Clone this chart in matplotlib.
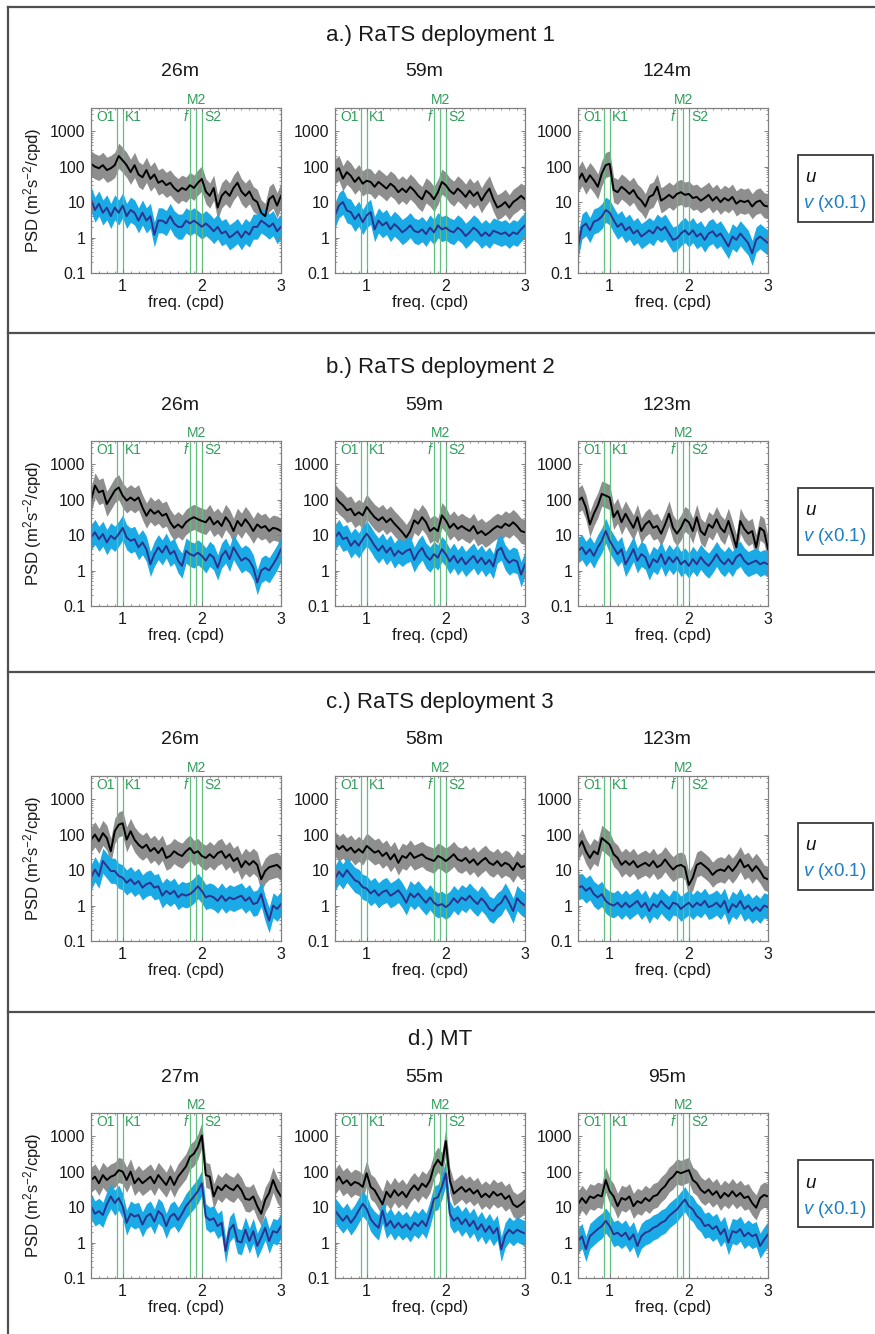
import numpy as np
import matplotlib
matplotlib.use("Agg")
import matplotlib.pyplot as plt
from matplotlib.patches import Rectangle
from matplotlib.lines import Line2D
from matplotlib.ticker import MultipleLocator, LogLocator, NullFormatter
import matplotlib.transforms as mtransforms

plt.rcParams['font.family'] = ['Liberation Sans', 'DejaVu Sans']
plt.rcParams['mathtext.fontset'] = 'custom'
plt.rcParams['mathtext.rm'] = 'Liberation Sans'
plt.rcParams['mathtext.it'] = 'Liberation Sans:italic'

# ---------------- data ----------------
FREQ = np.linspace(0.6, 3.0, 49)  # cpd

# a.) RaTS deployment 1
a1_u = [120,100,90,110,80,90,110,200,150,110,70,110,60,50,80,45,60,35,40,30,35,25,20,25,22,30,25,35,45,20,15,25,7,15,20,15,25,35,20,15,20,12,10,5,4,12,15,8,15]
a1_v = [12,6,9,5,7,4,7,5,8,4,6,5,3,5,3,4,1.2,3,3,2.5,4,2.5,2,2,3,2.5,3,2.5,2,2.5,2,1.5,2,1.3,1.5,1,1.2,1.5,1,1.5,1.2,2,2,3,2.5,2,2.5,1.5,2]
a2_u = [72,90,46,70,55,37,50,33,40,37,27,37,30,24,33,27,19,24,19,27,21,15,12,21,17,12,19,37,30,21,17,24,19,14,21,15,19,11,17,24,12,7,8,10,7,10,12,15,12]
a2_v = [4.2,8,10,5.8,5.2,3.3,4.6,2.7,4.2,5.2,1.7,3,2.2,2.7,1.7,2.4,1.9,1.4,1.7,2.2,1.55,1.4,1.7,1.25,1.9,1.4,2.2,1.7,1.9,1.55,1.4,1.9,1.55,1.1,1.4,1.9,1.55,1.1,1.4,1.1,1.55,1.4,1.25,1.4,1.1,1.4,1.25,1.7,2.2]
a3_u = [41,64,37,57,41,27,64,110,120,22,19,27,22,17,22,14,11,7.5,14,16,27,11,13,16,13,17,19,16,17,13,14,11,13,16,11,14,10,13,11,14,9,11,10,11,7.5,10,11,8,7.5]
a3_v = [0.56,2,2.5,1.6,2.8,3.1,3.9,6,5,3.1,2,2.5,1.6,2,1.3,1.6,1.07,1.3,1.6,1.3,2,1.6,2,1.3,0.86,0.95,1.3,1.6,1.2,1.6,1.07,1.3,0.86,1.3,1.5,1.07,1.3,0.86,0.56,1.07,0.86,1.3,0.95,0.7,0.36,0.86,1.07,0.86,0.7]

# b.) RaTS deployment 2
b1_u = [94,250,160,180,75,115,180,220,130,94,115,94,115,60,35,53,40,48,35,40,23,16,20,16,23,28,32,28,25,23,32,20,25,18,32,23,13,25,18,28,20,13,20,16,18,13,16,15,13]
b1_v = [8.6,12,7.7,10.7,6.2,9.6,7.7,10.7,16,8.6,6.9,7.7,4.5,6.2,4,1.5,2.9,4.5,3.2,5,2.9,3.6,1.9,1.35,3.6,2.9,2.6,3.2,2.6,1.9,2.9,2.3,1.2,2.6,3.6,2.1,4.5,2.9,1.9,2.3,1.9,1.2,0.46,1,1.2,1,1.5,2.3,4]
b2_u = [120,86,69,50,55,36,44,36,62,44,32,26,32,23,29,21,16,12,8.6,13,26,21,32,23,13,16,13,36,26,16,21,15,18,15,13,18,11,13,10,12,15,18,16,21,18,23,18,13,12]
b2_v = [8.6,12,7.7,8.6,5,6.9,5,7.7,11,7.7,5,3.6,5,3.2,4.4,2.6,3.6,2.9,3.6,4,2,3.2,4.4,2.6,2,2.9,2.3,4,2.9,1.8,2.6,1.65,2.3,1.5,2,2.6,1.65,2.3,1.5,2,1.3,3.6,4.4,2.3,1.65,2,1.8,0.77,1.5]
b3_u = [94,115,60,20,40,68,145,130,115,32,48,23,40,25,16,32,13,20,25,16,18,11,20,40,16,11,16,28,23,13,32,13,10,20,16,28,16,12,25,11,4.5,25,15,11,13,4.5,16,13,4]
b3_v = [3.6,4.5,2.9,4,2.6,4.5,6.9,13,6.9,4.5,2.9,4,1.5,2.4,4,1.9,2.9,2.4,1.2,2.1,1.7,2.9,1.5,2.4,1.7,2.4,1.5,1.9,1.35,2.1,1.5,2.4,1.7,1.35,1.9,2.9,1.9,1.5,2.1,1.5,2.4,2.9,1.9,1.5,1.7,1.9,1.5,1.7,1.5]

# c.) RaTS deployment 3
c1_u = [72,100,65,110,80,34,125,190,210,72,125,72,52,42,52,34,42,30,42,22,25,34,28,25,34,42,30,34,25,22,28,22,30,34,22,28,18,22,12,18,14,18,14,5.5,9.4,12,13,14,11]
c1_v = [6.1,10.4,6.8,18,13,9.4,9.4,6.8,6.1,4.4,5.5,4,4.9,3.2,4,4.4,3.2,3.5,1.9,2.6,2.1,2.6,1.7,2.1,1.9,2.1,2.6,3.5,2.6,1.7,1.9,1.7,1.35,1.9,1.35,1.7,1.5,1.7,1.9,1.35,1.7,1.1,1.2,2.1,0.8,0.38,1,0.8,1.1]
c2_u = [54,39,48,35,43,31,39,31,48,39,31,35,25,31,20,28,16,25,22,31,22,25,28,22,20,18,25,22,18,22,28,20,18,22,16,20,14,18,22,16,14,18,13,16,14,10,16,12,13]
c2_v = [5.8,9,6.5,10,7.2,5.2,4.6,3.3,3,2.2,2.7,1.9,2.4,2.7,1.9,2.2,2.7,1.9,1.2,2.2,1.7,2.2,1.6,1.2,1.7,1.2,1,1.1,0.9,1.1,1.6,1.2,1.7,1.4,1.9,1.4,1.1,1.6,1.2,0.8,0.7,1,1.2,1.9,1.2,0.7,1.6,1.2,1]
c3_u = [42,65,34,22,34,28,80,65,52,28,22,14,18,14,18,12,14,16,13,18,12,14,20,14,10.4,13,14,12,3.8,6.1,14,16,13,10.4,7.3,9.4,10.4,9.4,13,9.4,13,20,12,14,9.4,13,9.4,6.1,5.5]
c3_v = [3.2,3.5,2.6,3.2,2.1,1.7,2.1,1.35,1.1,1,1.2,0.9,1.2,0.9,1.1,1.35,0.9,1.2,0.7,1.1,0.9,1.35,1,0.8,1.2,1.1,0.8,1,1.2,0.9,1.2,1,1.35,0.9,1,1.2,0.9,1.35,0.64,1.1,0.9,1.35,0.8,1,0.7,0.9,0.7,1,0.9]

# d.) MT
d1_u = [58,72,47,80,58,72,80,110,100,58,100,47,65,47,58,72,47,80,58,42,72,42,72,100,140,260,320,500,1050,80,72,20,38,30,42,34,30,42,30,17,16,20,10.6,6.5,16,25,58,30,20]
d1_v = [10.6,6.5,7.7,6,12,20,13,18,10.6,3.6,6.5,5.4,6,3.2,5.4,6.5,3.9,7.7,6,2.9,5.4,6.5,4.3,6.5,10.6,14.5,20,28,47,5.4,4.3,4.8,2.9,3.6,0.58,2.3,3.2,1.1,1,2.3,1.1,2.1,0.8,1.4,2.6,1.1,2.1,1.9,2.9]
d2_u = [51,72,46,57,41,51,46,37,90,37,30,19,12,27,19,30,21,27,19,30,41,30,46,37,57,140,215,150,730,57,24,30,37,27,33,24,30,19,24,19,27,21,24,17,21,12,10,12,15]
d2_v = [8,5.7,4.1,5.7,3.6,5.1,8,12.4,8.9,4.6,3.3,2.6,8,2.9,4.1,2.6,3.6,2.6,3.3,2.3,3.6,2.9,4.1,2.9,6.4,17,19,37,90,6.4,4.1,5.1,3.3,4.6,2.9,4.1,2.3,3.3,2,2.9,1.8,2.6,0.64,1.6,2.3,1.8,2.3,2,1.8]
d3_u = [12,18,13,20,18,22,20,58,28,20,10.6,18,16,20,10.6,14.7,13,18,14.7,20,22,31,39,58,72,100,90,100,110,58,47,31,25,31,22,28,18,25,20,28,20,25,18,20,13,9.6,18,22,20]
d3_v = [1.1,1.5,0.65,1.5,1.9,2.4,2.9,4.1,2.9,1.7,1.9,1.5,1.9,1.2,1.7,0.8,1.5,1.9,2.1,2.6,2.9,3.6,4.1,5.6,7,8.6,12,16.4,10.6,8.6,5.6,4.5,2.9,3.2,2.4,2.9,1.7,2.4,1,2.1,1.9,2.4,1.5,1.9,1.5,1.7,0.8,1.2,1.7]

ROW_TITLES = ["a.) RaTS deployment 1", "b.) RaTS deployment 2",
              "c.) RaTS deployment 3", "d.) MT"]
DEPTHS = [["26m", "59m", "124m"], ["26m", "59m", "123m"],
          ["26m", "58m", "123m"], ["27m", "55m", "95m"]]
U = [[a1_u, a2_u, a3_u], [b1_u, b2_u, b3_u], [c1_u, c2_u, c3_u], [d1_u, d2_u, d3_u]]
V = [[a1_v, a2_v, a3_v], [b1_v, b2_v, b3_v], [c1_v, c2_v, c3_v], [d1_v, d2_v, d3_v]]

CONST_NAMES = ["O1", "K1", "f", "M2", "S2"]
CONST_FREQ = [0.9295, 1.0027, 1.85, 1.9323, 2.0]

CI_HI = 2.3   # confidence band factors
CI_LO = 0.45

YTICKS = [0.1, 1, 10, 100, 1000]
YTICKLABELS = ["0.1", "1", "10", "100", "1000"]
XTICKS = [1, 2, 3]

# ---------------- layout ----------------
W, H = 875, 1334
fig = plt.figure(figsize=(W / 100, H / 100), dpi=100)

def fx(px):
    return px / W

def fy(py):
    return 1 - py / H

col_left = [91, 335, 578]
ax_w = 190
row_top = [108, 441, 776, 1113]
ax_h = 165
title_y = [35, 367, 702, 1040]
sep_y = [333, 672, 1012]

GREY_BAND = '#8e8e8e'
CYAN_BAND = '#1aaae6'
V_LINE = '#2b338f'
GREEN_LINE = '#63bf80'
GREEN_TXT = '#2f9e5a'
SPINE = '#808080'

for r in range(4):
    fig.text(fx(440), fy(title_y[r]), ROW_TITLES[r], ha='center', va='center',
             fontsize=16, color='#1a1a1a')
    for c in range(3):
        left = col_left[c]
        top = row_top[r]
        fig.text(fx(left + ax_w / 2 - 6), fy(top - 36), DEPTHS[r][c],
                 ha='center', va='center', fontsize=14, color='#1a1a1a')
        ax = fig.add_axes([fx(left), fy(top + ax_h), fx(ax_w), ax_h / H])
        ax.set_yscale('log')
        u = np.array(U[r][c], dtype=float)
        v = np.array(V[r][c], dtype=float)
        ax.fill_between(FREQ, u * CI_LO, u * CI_HI, color=GREY_BAND, lw=0, zorder=1)
        ax.fill_between(FREQ, v * CI_LO, v * CI_HI, color=CYAN_BAND, lw=0, zorder=1.1)
        for name, f in zip(CONST_NAMES, CONST_FREQ):
            ax.axvline(f, color=GREEN_LINE, lw=0.9, zorder=1.5)
        ax.plot(FREQ, u, color='black', lw=1.4, zorder=2)
        ax.plot(FREQ, v, color=V_LINE, lw=1.4, zorder=2.1)

        trans = mtransforms.blended_transform_factory(ax.transData, ax.transAxes)
        for name, f in zip(CONST_NAMES, CONST_FREQ):
            if name in ("O1", "f"):
                ax.annotate(name, xy=(f, 0.945), xycoords=trans, xytext=(-1.5, 0),
                            textcoords='offset points', ha='right', va='center',
                            fontsize=10, color=GREEN_TXT,
                            style='italic' if name == 'f' else 'normal')
            elif name in ("K1", "S2"):
                ax.annotate(name, xy=(f, 0.945), xycoords=trans, xytext=(1.5, 0),
                            textcoords='offset points', ha='left', va='center',
                            fontsize=10, color=GREEN_TXT)
            else:
                ax.annotate(name, xy=(f, 1.0), xycoords=trans, xytext=(0, 6),
                            textcoords='offset points', ha='center', va='center',
                            fontsize=10, color=GREEN_TXT, annotation_clip=False)

        ax.set_xlim(0.6, 3.0)
        ax.set_ylim(0.1, 4500)
        ax.set_yticks(YTICKS)
        ax.set_yticklabels(YTICKLABELS)
        ax.yaxis.set_minor_locator(LogLocator(base=10, subs=np.arange(2, 10)))
        ax.yaxis.set_minor_formatter(NullFormatter())
        ax.set_xticks(XTICKS)
        ax.set_xticklabels([str(t) for t in XTICKS])
        ax.xaxis.set_minor_locator(MultipleLocator(0.1))
        ax.tick_params(which='both', direction='in', top=True, right=True,
                       color=SPINE, labelsize=11.5, labelcolor='#1a1a1a')
        ax.tick_params(which='major', length=3, width=0.7, pad=4)
        ax.tick_params(which='minor', length=1.5, width=0.6)
        for sp in ax.spines.values():
            sp.set_color(SPINE)
            sp.set_linewidth(0.9)
        ax.set_xlabel('freq. (cpd)', fontsize=12, labelpad=1, color='#1a1a1a')
        if c == 0:
            ax.set_ylabel('PSD (m$^{2}$s$^{-2}$/cpd)', fontsize=12, labelpad=4,
                          color='#1a1a1a')

    # legend box
    lt = row_top[r] + 47
    fig.add_artist(Rectangle((fx(798), fy(lt + 67)), fx(75), 67 / H, fill=False,
                             edgecolor='#3a3a3a', lw=1.3, transform=fig.transFigure))
    fig.text(fx(805), fy(lt + 23), r'$\mathit{u}$', ha='left', va='center',
             fontsize=13.5, color='#111111')
    fig.text(fx(803), fy(lt + 49), r'$\mathit{v}$ (x0.1)', ha='left', va='center',
             fontsize=13.5, color='#1f7fc4')

# outer frame and separators
FRAME = '#4f4f4f'
fig.add_artist(Line2D([fx(8), fx(8)], [fy(7), fy(H)], color=FRAME, lw=1.6,
                      transform=fig.transFigure))
fig.add_artist(Line2D([fx(8), fx(W)], [fy(7), fy(7)], color=FRAME, lw=1.6,
                      transform=fig.transFigure))
for s in sep_y:
    fig.add_artist(Line2D([fx(8), fx(W)], [fy(s), fy(s)], color=FRAME, lw=1.6,
                          transform=fig.transFigure))

fig.savefig('out.png', dpi=100)
